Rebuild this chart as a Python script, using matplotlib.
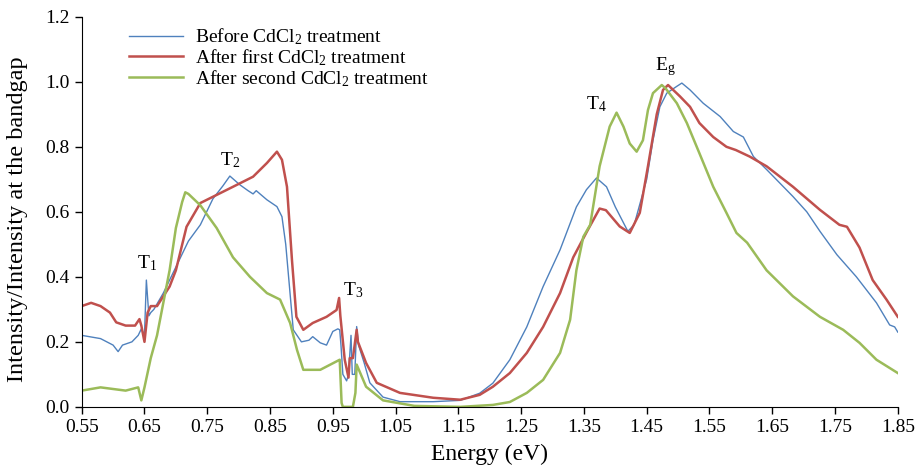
import matplotlib
matplotlib.use("Agg")
import matplotlib.pyplot as plt

plt.rcParams['font.family'] = ['Liberation Serif', 'DejaVu Serif']
plt.rcParams['mathtext.fontset'] = 'custom'
plt.rcParams['mathtext.rm'] = 'Liberation Serif'
plt.rcParams['mathtext.it'] = 'Liberation Serif'

# Before CdCl2 treatment
before_x = [0.55, 0.58, 0.60, 0.608, 0.615, 0.63, 0.64, 0.645, 0.65, 0.653, 0.657, 0.66, 0.665,
            0.68, 0.70, 0.72, 0.739, 0.759, 0.775, 0.786, 0.802, 0.815, 0.823, 0.828, 0.845, 0.861,
            0.869, 0.875, 0.887, 0.90, 0.912, 0.918, 0.93, 0.94, 0.95, 0.958, 0.961, 0.963, 0.966,
            0.972, 0.975, 0.979, 0.981, 0.985, 0.988, 0.991, 1.00, 1.009, 1.03, 1.057, 1.11, 1.153,
            1.184, 1.205, 1.232, 1.259, 1.285, 1.312, 1.338, 1.354, 1.37, 1.386, 1.40, 1.42, 1.43,
            1.45, 1.46, 1.471, 1.482, 1.498, 1.506, 1.519, 1.54, 1.567, 1.588, 1.604, 1.62, 1.641,
            1.683, 1.705, 1.726, 1.753, 1.784, 1.816, 1.837, 1.845, 1.85]
before_y = [0.22, 0.21, 0.19, 0.17, 0.19, 0.20, 0.22, 0.24, 0.22, 0.39, 0.28, 0.29, 0.30,
            0.35, 0.43, 0.51, 0.56, 0.64, 0.68, 0.71, 0.683, 0.665, 0.655, 0.665, 0.637, 0.616,
            0.585, 0.50, 0.237, 0.20, 0.205, 0.216, 0.197, 0.19, 0.232, 0.24, 0.237, 0.19, 0.10,
            0.08, 0.10, 0.22, 0.10, 0.10, 0.247, 0.19, 0.135, 0.074, 0.03, 0.016, 0.016, 0.02,
            0.042, 0.073, 0.145, 0.246, 0.37, 0.483, 0.615, 0.668, 0.704, 0.677, 0.615, 0.54, 0.56,
            0.70, 0.82, 0.923, 0.965, 0.986, 0.996, 0.975, 0.934, 0.893, 0.847, 0.83, 0.77, 0.73,
            0.647, 0.60, 0.54, 0.468, 0.40, 0.32, 0.252, 0.246, 0.23]

# After first CdCl2 treatment
first_x = [0.55, 0.565, 0.58, 0.595, 0.605, 0.62, 0.635, 0.642, 0.645, 0.65, 0.655, 0.66, 0.67,
           0.68, 0.69, 0.70, 0.717, 0.739, 0.765, 0.791, 0.823, 0.845, 0.861, 0.869, 0.877,
           0.885, 0.892, 0.903, 0.918, 0.94, 0.956, 0.96, 0.962, 0.969, 0.975, 0.977, 0.982, 0.988,
           0.99, 1.003, 1.02, 1.057, 1.11, 1.153, 1.184, 1.205, 1.232, 1.259, 1.285, 1.312, 1.333,
           1.355, 1.375, 1.385, 1.407, 1.423, 1.439, 1.452, 1.466, 1.476, 1.484, 1.503, 1.519,
           1.534, 1.556, 1.577, 1.592, 1.614, 1.641, 1.683, 1.726, 1.757, 1.769, 1.789, 1.81,
           1.832, 1.85]
first_y = [0.31, 0.32, 0.31, 0.29, 0.26, 0.25, 0.25, 0.27, 0.25, 0.20, 0.29, 0.31, 0.31,
           0.34, 0.37, 0.42, 0.554, 0.627, 0.652, 0.677, 0.708, 0.75, 0.785, 0.76, 0.677,
           0.45, 0.277, 0.237, 0.258, 0.277, 0.298, 0.335, 0.28, 0.145, 0.09, 0.15, 0.15, 0.237,
           0.20, 0.135, 0.074, 0.043, 0.028, 0.022, 0.037, 0.062, 0.104, 0.166, 0.246, 0.35, 0.46,
           0.54, 0.61, 0.605, 0.555, 0.535, 0.597, 0.74, 0.90, 0.975, 0.99, 0.955, 0.923,
           0.873, 0.83, 0.80, 0.79, 0.77, 0.74, 0.677, 0.606, 0.56, 0.554, 0.49, 0.39,
           0.33, 0.277]

# After second CdCl2 treatment
second_x = [0.55, 0.58, 0.62, 0.64, 0.645, 0.65, 0.66, 0.67, 0.68, 0.69, 0.70, 0.71, 0.715,
            0.72, 0.739, 0.765, 0.791, 0.818, 0.845, 0.866, 0.882, 0.893, 0.903, 0.93, 0.951,
            0.961, 0.964, 0.966, 0.982, 0.986, 0.988, 1.003, 1.03, 1.08, 1.153, 1.205, 1.232,
            1.259, 1.285, 1.312, 1.328, 1.338, 1.349, 1.36, 1.375, 1.391, 1.402, 1.413, 1.423,
            1.434, 1.444, 1.452, 1.46, 1.474, 1.48, 1.498, 1.514, 1.534, 1.556, 1.577, 1.593,
            1.61, 1.641, 1.683, 1.726, 1.763, 1.789, 1.816, 1.85]
second_y = [0.05, 0.06, 0.05, 0.06, 0.02, 0.06, 0.15, 0.22, 0.32, 0.42, 0.55, 0.63, 0.66,
            0.655, 0.62, 0.55, 0.46, 0.40, 0.35, 0.33, 0.258, 0.175, 0.114, 0.114, 0.135,
            0.145, 0.012, 0.0, 0.0, 0.043, 0.13, 0.062, 0.02, 0.003, 0.0, 0.006, 0.015,
            0.043, 0.083, 0.166, 0.268, 0.42, 0.523, 0.56, 0.74, 0.862, 0.905, 0.862, 0.81,
            0.785, 0.82, 0.913, 0.965, 0.99, 0.98, 0.934, 0.873, 0.78, 0.677, 0.597, 0.535,
            0.505, 0.42, 0.34, 0.277, 0.237, 0.197, 0.145, 0.104]

labels = ["Before CdCl$_2$ treatment", "After first CdCl$_2$ treatment",
          "After second CdCl$_2$ treatment"]
colors = ["#4f81bd", "#c0504d", "#9bbb59"]

# peak labels
peak_names = ["T$_1$", "T$_2$", "T$_3$", "T$_4$", "E$_\\mathrm{g}$"]
peak_x = [0.654, 0.786, 0.982, 1.37, 1.479]
peak_y = [0.443, 0.76, 0.36, 0.93, 1.046]

fig = plt.figure(figsize=(9.18, 4.65), dpi=100)
ax = fig.add_axes([0.089, 0.125, 0.889, 0.839])

ax.plot(before_x, before_y, color=colors[0], lw=1.0, label=labels[0])
ax.plot(first_x, first_y, color=colors[1], lw=1.8, label=labels[1])
ax.plot(second_x, second_y, color=colors[2], lw=1.8, label=labels[2])

for name, px, py in zip(peak_names, peak_x, peak_y):
    ax.text(px, py, name, ha='center', va='center', fontsize=14)

ax.set_xlim(0.55, 1.85)
ax.set_ylim(0, 1.2)
ax.set_xticks([0.55 + 0.1 * i for i in range(14)])
ax.set_xticklabels([f"{0.55 + 0.1 * i:.2f}" for i in range(14)])
ax.set_yticks([0.2 * i for i in range(7)])
ax.set_yticklabels([f"{0.2 * i:.1f}" for i in range(7)])
ax.tick_params(labelsize=14, direction='out', length=5, width=1)
for s in ['top', 'right']:
    ax.spines[s].set_visible(False)

ax.set_xlabel("Energy (eV)", fontsize=17)
ax.xaxis.set_label_coords(0.5, -0.095)
ax.set_ylabel("Intensity/Intensity at the bandgap", fontsize=17.5)
ax.yaxis.set_label_coords(-0.066, 0.48)

ax.legend(loc='upper left', bbox_to_anchor=(0.036, 1.02), frameon=False, fontsize=14,
          handlelength=2.8, handletextpad=0.6, labelspacing=0.0)

fig.savefig("out.png", dpi=100)
